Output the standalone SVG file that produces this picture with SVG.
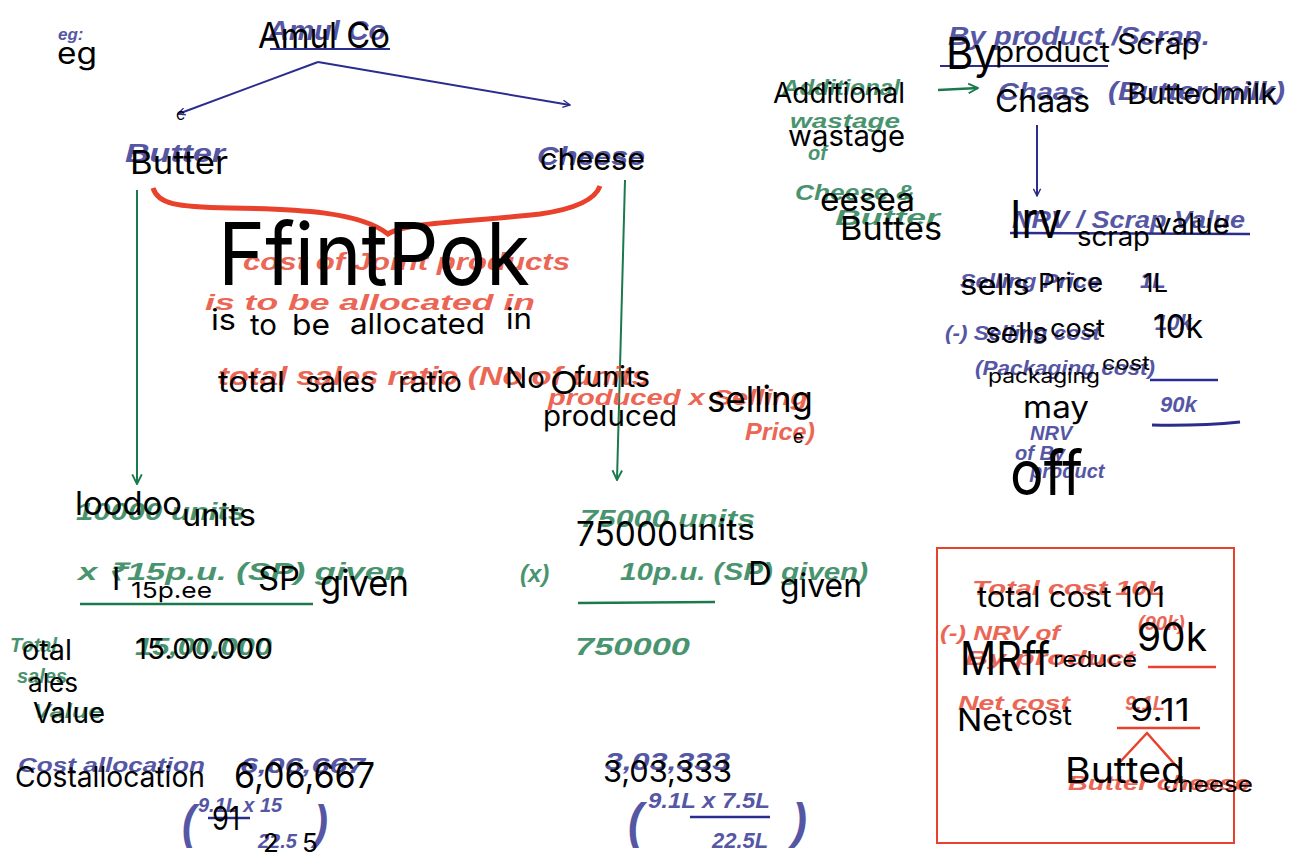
<svg xmlns="http://www.w3.org/2000/svg" width="1294" height="859" viewBox="0 0 1294 859">
<defs>
<marker id="ab" viewBox="0 0 10 10" refX="9" refY="5" markerWidth="9" markerHeight="9" orient="auto" markerUnits="userSpaceOnUse"><path d="M1,1 L9,5 L1,9" fill="none" stroke="#2b2d8e" stroke-width="1.6"/></marker>
<marker id="ag" viewBox="0 0 10 10" refX="9" refY="5" markerWidth="12" markerHeight="12" orient="auto" markerUnits="userSpaceOnUse"><path d="M1,1 L9,5 L1,9" fill="none" stroke="#1a7a4c" stroke-width="1.6"/></marker>
</defs>
<style>
.k{font-family:Inter,"Liberation Sans",Arial,sans-serif;fill:#000}
.h{font-family:"Liberation Sans Narrow","Liberation Sans",sans-serif;font-style:italic;font-weight:bold;opacity:0.8}
.b{fill:#2b2d8e}.g{fill:#1a7a4c}.r{fill:#e8412c}
.lb{stroke:#2b2d8e;stroke-width:2;fill:none}
.lg{stroke:#1a7a4c;stroke-width:2;fill:none}
.lr{stroke:#e8412c;stroke-width:2.5;fill:none}
</style>
<rect width="1294" height="859" fill="#fff"/>

<g id="connectors">
<line x1="318" y1="62" x2="178" y2="114" class="lb" marker-end="url(#ab)"/>
<line x1="318" y1="62" x2="570" y2="105" class="lb" marker-end="url(#ab)"/>
<line x1="270" y1="49" x2="390" y2="49" class="lb"/>
<line x1="137" y1="190" x2="137" y2="484" class="lg" marker-end="url(#ag)"/>
<line x1="625" y1="180" x2="617" y2="480" class="lg" marker-end="url(#ag)"/>
<path d="M153,188 C158,204 175,207 230,208 C300,209 360,212 388,234 C405,222 470,222 540,214 C575,209 595,200 600,186" class="lr" style="stroke-width:5"/>
<line x1="80" y1="604" x2="313" y2="604" class="lg" style="stroke-width:2.5"/>
<line x1="578" y1="603" x2="715" y2="602" class="lg" style="stroke-width:2.5"/>
<line x1="938" y1="90" x2="978" y2="88" class="lg" style="stroke-width:2.5" marker-end="url(#ag)"/>
<line x1="940" y1="66" x2="1108" y2="66" class="lb"/>
<line x1="1037" y1="125" x2="1037" y2="196" class="lb" marker-end="url(#ab)"/>
<line x1="1010" y1="233" x2="1250" y2="234" class="lb" style="stroke-width:2.5"/>
<line x1="1150" y1="380" x2="1218" y2="380" class="lb" style="stroke-width:2.5"/>
<path d="M1152,425 Q1200,426 1240,422" class="lb" style="stroke-width:3"/>
<line x1="1148" y1="667" x2="1216" y2="667" class="lr"/>
<line x1="1117" y1="728" x2="1200" y2="728" class="lr"/>
<path d="M1120,762 L1147,733 L1178,768" class="lr"/>
<path d="M208,818 L250,818" class="lb" style="stroke-width:2.5"/>
<path d="M690,817 L770,817" class="lb" style="stroke-width:2.5"/>
</g>

<g id="box">
<rect x="937" y="548" width="297" height="295" fill="none" stroke="#e8412c" stroke-width="2"/>
</g>

<g id="handwriting">
<text class="h b" x="58" y="40" font-size="17">eg:</text>
<text class="h b" x="268" y="40" font-size="28" textLength="118" lengthAdjust="spacingAndGlyphs">Amul Co</text>
<text class="h b" x="125" y="162" font-size="25" textLength="100" lengthAdjust="spacingAndGlyphs">Butter</text>
<text class="h b" x="537" y="165" font-size="25" textLength="108" lengthAdjust="spacingAndGlyphs">Cheese</text>
<text class="h r" x="243" y="270" font-size="24" font-weight="normal" textLength="327" lengthAdjust="spacingAndGlyphs">cost of Joint products</text>
<text class="h r" x="205" y="310" font-size="22" textLength="330" lengthAdjust="spacingAndGlyphs">is to be allocated in</text>
<text class="h r" x="218" y="385" font-size="26" font-weight="normal" textLength="432" lengthAdjust="spacingAndGlyphs">total sales ratio (No of units</text>
<text class="h r" x="548" y="405" font-size="22" font-weight="normal" textLength="260" lengthAdjust="spacingAndGlyphs">produced x Selling</text>
<text class="h r" x="745" y="440" font-size="24" font-weight="normal" textLength="70" lengthAdjust="spacingAndGlyphs">Price)</text>
<text class="h g" x="76" y="520" font-size="24" textLength="169" lengthAdjust="spacingAndGlyphs">10000 units</text>
<text class="h g" x="78" y="580" font-size="24" textLength="327" lengthAdjust="spacingAndGlyphs">x ₹15p.u. (SP) given</text>
<text class="h g" x="580" y="527" font-size="24" textLength="175" lengthAdjust="spacingAndGlyphs">75000 units</text>
<text class="h g" x="520" y="582" font-size="24" font-weight="normal">(x)</text>
<text class="h g" x="620" y="580" font-size="24" font-weight="normal" textLength="248" lengthAdjust="spacingAndGlyphs">10p.u. (SP) given)</text>
<text class="h g" x="575" y="655" font-size="24" textLength="115" lengthAdjust="spacingAndGlyphs">750000</text>
<text class="h g" x="10" y="652" font-size="20">Total</text>
<text class="h g" x="17" y="683" font-size="20">sales</text>
<text class="h g" x="33" y="718" font-size="20" textLength="70" lengthAdjust="spacingAndGlyphs">Value</text>
<text class="h g" x="135" y="655" font-size="24" textLength="137" lengthAdjust="spacingAndGlyphs">15,00,000</text>
<text class="h b" x="18" y="772" font-size="20" textLength="187" lengthAdjust="spacingAndGlyphs">Cost allocation</text>
<text class="h b" x="240" y="773" font-size="22" textLength="125" lengthAdjust="spacingAndGlyphs">6,06,667</text>
<text class="h b" x="182" y="838" font-size="46" font-weight="normal" textLength="14" lengthAdjust="spacingAndGlyphs">(</text>
<text class="h b" x="198" y="812" font-size="20">9.1L x 15</text>
<text class="h b" x="258" y="848" font-size="20">22.5</text>
<text class="h b" x="314" y="838" font-size="46" font-weight="normal" textLength="14" lengthAdjust="spacingAndGlyphs">)</text>
<text class="h b" x="605" y="770" font-size="24" textLength="125" lengthAdjust="spacingAndGlyphs">3,03,333</text>
<text class="h b" x="628" y="838" font-size="50" font-weight="normal" textLength="15" lengthAdjust="spacingAndGlyphs">(</text>
<text class="h b" x="648" y="808" font-size="22" textLength="122" lengthAdjust="spacingAndGlyphs">9.1L x 7.5L</text>
<text class="h b" x="712" y="848" font-size="22">22.5L</text>
<text class="h b" x="792" y="838" font-size="50" font-weight="normal" textLength="15" lengthAdjust="spacingAndGlyphs">)</text>

<text class="h g" x="782" y="95" font-size="22" textLength="118" lengthAdjust="spacingAndGlyphs">Additional</text>
<text class="h g" x="790" y="128" font-size="20" textLength="110" lengthAdjust="spacingAndGlyphs">wastage</text>
<text class="h g" x="808" y="160" font-size="20">of</text>
<text class="h g" x="795" y="200" font-size="22" textLength="120" lengthAdjust="spacingAndGlyphs">Cheese &amp;</text>
<text class="h g" x="835" y="225" font-size="22" textLength="105" lengthAdjust="spacingAndGlyphs">Butter</text>
<text class="h b" x="948" y="45" font-size="26" font-weight="normal" textLength="262" lengthAdjust="spacingAndGlyphs">By product /Scrap.</text>
<text class="h b" x="998" y="100" font-size="24" textLength="87" lengthAdjust="spacingAndGlyphs">Chaas</text>
<text class="h b" x="1108" y="100" font-size="26" textLength="177" lengthAdjust="spacingAndGlyphs">(Butter milk)</text>
<text class="h b" x="1012" y="228" font-size="24" font-weight="normal" textLength="233" lengthAdjust="spacingAndGlyphs">NRV / Scrap Value</text>
<text class="h b" x="960" y="288" font-size="21" textLength="140" lengthAdjust="spacingAndGlyphs">Selling Price</text>
<text class="h b" x="1140" y="288" font-size="22">1L</text>
<text class="h b" x="945" y="340" font-size="21" textLength="155" lengthAdjust="spacingAndGlyphs">(-) Selling cost</text>
<text class="h b" x="1155" y="330" font-size="22">10k</text>
<text class="h b" x="975" y="375" font-size="21" textLength="180" lengthAdjust="spacingAndGlyphs">(Packaging cost)</text>
<text class="h b" x="1160" y="412" font-size="22">90k</text>
<text class="h b" x="1030" y="440" font-size="20">NRV</text>
<text class="h b" x="1015" y="460" font-size="20">of By</text>
<text class="h b" x="1030" y="478" font-size="20">product</text>

<text class="h r" x="972" y="595" font-size="20" font-weight="normal" textLength="193" lengthAdjust="spacingAndGlyphs">Total cost 10L</text>
<text class="h r" x="1138" y="630" font-size="20" font-weight="normal">(90k)</text>
<text class="h r" x="940" y="640" font-size="20" font-weight="normal" textLength="120" lengthAdjust="spacingAndGlyphs">(-) NRV of</text>
<text class="h r" x="965" y="665" font-size="20" font-weight="normal" textLength="170" lengthAdjust="spacingAndGlyphs">By product</text>
<text class="h r" x="958" y="710" font-size="20" textLength="112" lengthAdjust="spacingAndGlyphs">Net cost</text>
<text class="h r" x="1125" y="710" font-size="20">9.1L</text>
<text class="h r" x="1068" y="790" font-size="20" textLength="182" lengthAdjust="spacingAndGlyphs">Butter cheese</text>
</g>

<g id="ocr">
<text class="k" x="57" y="64" font-size="30" textLength="40" lengthAdjust="spacingAndGlyphs">eg</text>
<text class="k" x="258" y="48" font-size="35" textLength="132" lengthAdjust="spacingAndGlyphs">Amul Co</text>
<text class="k" x="176" y="120" font-size="16">c</text>
<text class="k" x="130" y="174" font-size="32" textLength="98" lengthAdjust="spacingAndGlyphs">Butter</text>
<text class="k" x="540" y="170" font-size="30" textLength="105" lengthAdjust="spacingAndGlyphs">cheese</text>
<text class="k" x="218" y="285" font-size="86" textLength="312" lengthAdjust="spacingAndGlyphs">FfintPok</text>
<text class="k" x="211" y="330" font-size="29" textLength="25" lengthAdjust="spacingAndGlyphs">is</text>
<text class="k" x="250" y="335" font-size="29" textLength="27" lengthAdjust="spacingAndGlyphs">to</text>
<text class="k" x="292" y="335" font-size="29" textLength="38" lengthAdjust="spacingAndGlyphs">be</text>
<text class="k" x="350" y="334" font-size="29" textLength="135" lengthAdjust="spacingAndGlyphs">allocated</text>
<text class="k" x="506" y="329" font-size="29" textLength="26" lengthAdjust="spacingAndGlyphs">in</text>
<text class="k" x="218" y="392" font-size="29" textLength="67" lengthAdjust="spacingAndGlyphs">total</text>
<text class="k" x="305" y="392" font-size="29" textLength="70" lengthAdjust="spacingAndGlyphs">sales</text>
<text class="k" x="398" y="392" font-size="29" textLength="64" lengthAdjust="spacingAndGlyphs">ratio</text>
<text class="k" x="505" y="388" font-size="29" textLength="40" lengthAdjust="spacingAndGlyphs">No</text>
<text class="k" x="550" y="394" font-size="31" textLength="28" lengthAdjust="spacingAndGlyphs">O</text>
<text class="k" x="575" y="387" font-size="29" textLength="75" lengthAdjust="spacingAndGlyphs">funits</text>
<text class="k" x="543" y="426" font-size="29" textLength="134" lengthAdjust="spacingAndGlyphs">produced</text>
<text class="k" x="707" y="412" font-size="36" textLength="106" lengthAdjust="spacingAndGlyphs">selling</text>
<text class="k" x="793" y="443" font-size="18">e</text>
<text class="k" x="75" y="515" font-size="33" textLength="107" lengthAdjust="spacingAndGlyphs">loodoo</text>
<text class="k" x="182" y="526" font-size="30" textLength="74" lengthAdjust="spacingAndGlyphs">units</text>
<text class="k" x="112" y="590" font-size="31">I</text>
<text class="k" x="131" y="598" font-size="22" textLength="81" lengthAdjust="spacingAndGlyphs">15p.ee</text>
<text class="k" x="258" y="590" font-size="32" textLength="42" lengthAdjust="spacingAndGlyphs">SP</text>
<text class="k" x="320" y="596" font-size="36" textLength="89" lengthAdjust="spacingAndGlyphs">given</text>
<text class="k" x="22" y="660" font-size="28" textLength="50" lengthAdjust="spacingAndGlyphs">otal</text>
<text class="k" x="28" y="692" font-size="26" textLength="50" lengthAdjust="spacingAndGlyphs">ales</text>
<text class="k" x="33" y="723" font-size="28" textLength="72" lengthAdjust="spacingAndGlyphs">Value</text>
<text class="k" x="135" y="659" font-size="29" textLength="138" lengthAdjust="spacingAndGlyphs">15.00.000</text>
<text class="k" x="15" y="787" font-size="29" textLength="190" lengthAdjust="spacingAndGlyphs">Costallocation</text>
<text class="k" x="234" y="788" font-size="36" textLength="141" lengthAdjust="spacingAndGlyphs">6,06,667</text>
<text class="k" x="212" y="830" font-size="32" textLength="28" lengthAdjust="spacingAndGlyphs">91</text>
<text class="k" x="263" y="852" font-size="26">2</text>
<text class="k" x="302" y="852" font-size="26">5</text>
<text class="k" x="576" y="546" font-size="34" textLength="102" lengthAdjust="spacingAndGlyphs">75000</text>
<text class="k" x="678" y="540" font-size="29" textLength="77" lengthAdjust="spacingAndGlyphs">units</text>
<text class="k" x="748" y="585" font-size="33">D</text>
<text class="k" x="780" y="597" font-size="33" textLength="82" lengthAdjust="spacingAndGlyphs">given</text>
<text class="k" x="603" y="782" font-size="30" textLength="129" lengthAdjust="spacingAndGlyphs">3,03,333</text>

<text class="k" x="773" y="103" font-size="28" textLength="132" lengthAdjust="spacingAndGlyphs">Additional</text>
<text class="k" x="788" y="146" font-size="29" textLength="117" lengthAdjust="spacingAndGlyphs">wastage</text>
<text class="k" x="820" y="211" font-size="33" textLength="95" lengthAdjust="spacingAndGlyphs">eesea</text>
<text class="k" x="840" y="240" font-size="33" textLength="102" lengthAdjust="spacingAndGlyphs">Buttes</text>
<text class="k" x="946" y="69" font-size="44" textLength="51" lengthAdjust="spacingAndGlyphs">By</text>
<text class="k" x="995" y="62" font-size="28" textLength="115" lengthAdjust="spacingAndGlyphs">product</text>
<text class="k" x="1117" y="54" font-size="28" textLength="83" lengthAdjust="spacingAndGlyphs">Scrap</text>
<text class="k" x="995" y="112" font-size="31" textLength="95" lengthAdjust="spacingAndGlyphs">Chaas</text>
<text class="k" x="1127" y="104" font-size="29" textLength="150" lengthAdjust="spacingAndGlyphs">Buttedmilk</text>
<text class="k" x="1010" y="238" font-size="52" textLength="52" lengthAdjust="spacingAndGlyphs">Irv</text>
<text class="k" x="1077" y="246" font-size="26" textLength="73" lengthAdjust="spacingAndGlyphs">scrap</text>
<text class="k" x="1155" y="234" font-size="29" textLength="75" lengthAdjust="spacingAndGlyphs">value</text>
<text class="k" x="960" y="295" font-size="28" textLength="70" lengthAdjust="spacingAndGlyphs">sells</text>
<text class="k" x="1038" y="292" font-size="26" textLength="65" lengthAdjust="spacingAndGlyphs">Price</text>
<text class="k" x="1143" y="292" font-size="26" textLength="25" lengthAdjust="spacingAndGlyphs">1L</text>
<text class="k" x="985" y="343" font-size="28" textLength="63" lengthAdjust="spacingAndGlyphs">sells</text>
<text class="k" x="1050" y="337" font-size="25" textLength="55" lengthAdjust="spacingAndGlyphs">cost</text>
<text class="k" x="1153" y="338" font-size="32" textLength="50" lengthAdjust="spacingAndGlyphs">10k</text>
<text class="k" x="988" y="383" font-size="20" textLength="112" lengthAdjust="spacingAndGlyphs">packaging</text>
<text class="k" x="1102" y="370" font-size="20" textLength="48" lengthAdjust="spacingAndGlyphs">cost</text>
<text class="k" x="1023" y="418" font-size="30" textLength="66" lengthAdjust="spacingAndGlyphs">may</text>
<text class="k" x="1010" y="495" font-size="62" textLength="73" lengthAdjust="spacingAndGlyphs">off</text>

<text class="k" x="977" y="607" font-size="28" textLength="188" lengthAdjust="spacingAndGlyphs">total cost 101</text>
<text class="k" x="960" y="675" font-size="46" textLength="90" lengthAdjust="spacingAndGlyphs">MRff</text>
<text class="k" x="1053" y="667" font-size="22" textLength="84" lengthAdjust="spacingAndGlyphs">reduce</text>
<text class="k" x="1137" y="651" font-size="40" textLength="70" lengthAdjust="spacingAndGlyphs">90k</text>
<text class="k" x="957" y="731" font-size="31" textLength="56" lengthAdjust="spacingAndGlyphs">Net</text>
<text class="k" x="1015" y="725" font-size="27" textLength="57" lengthAdjust="spacingAndGlyphs">cost</text>
<text class="k" x="1130" y="721" font-size="31" textLength="60" lengthAdjust="spacingAndGlyphs">9.11</text>
<text class="k" x="1065" y="783" font-size="36" textLength="120" lengthAdjust="spacingAndGlyphs">Butted</text>
<text class="k" x="1163" y="792" font-size="22" textLength="90" lengthAdjust="spacingAndGlyphs">cheese</text>
</g>
</svg>
